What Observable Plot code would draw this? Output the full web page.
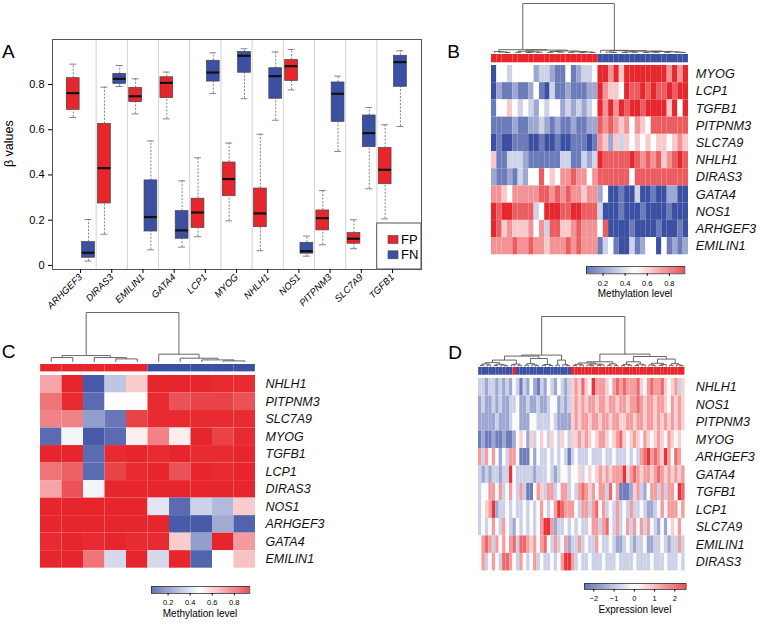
<!DOCTYPE html>
<html><head><meta charset="utf-8">
<script src="https://cdn.jsdelivr.net/npm/d3@7"></script>
<script src="https://cdn.jsdelivr.net/npm/@observablehq/plot@0.6"></script>
<style>
html,body{margin:0;padding:0;background:#fff;}
#fig{position:relative;width:760px;height:624px;background:#fff;overflow:hidden;}
#fig svg{position:absolute;}
</style></head>
<body><div id="fig"></div>
<script>
// ---------------- DATA ----------------
// Panel A: box-plot statistics of beta values per gene
const genes = ["ARHGEF3","DIRAS3","EMILIN1","GATA4","LCP1","MYOG","NHLH1","NOS1","PITPNM3","SLC7A9","TGFB1"];
const fpMin = [0.654,0.138,0.670,0.648,0.127,0.197,0.065,0.776,0.091,0.074,0.206];
const fpQ1  = [0.688,0.274,0.722,0.740,0.166,0.306,0.169,0.816,0.155,0.096,0.359];
const fpMed = [0.762,0.430,0.748,0.807,0.234,0.382,0.230,0.881,0.209,0.118,0.423];
const fpQ3  = [0.828,0.626,0.785,0.832,0.295,0.455,0.340,0.908,0.243,0.143,0.519];
const fpMax = [0.890,0.788,0.825,0.855,0.476,0.541,0.580,0.955,0.331,0.202,0.622];
const fnMin = [0.019,0.791,0.069,0.081,0.760,0.737,0.642,0.041,0.504,0.339,0.614];
const fnQ1  = [0.034,0.803,0.150,0.118,0.813,0.852,0.737,0.052,0.635,0.523,0.790];
const fnMed = [0.056,0.825,0.214,0.155,0.853,0.927,0.837,0.063,0.759,0.585,0.899];
const fnQ3  = [0.103,0.847,0.376,0.240,0.905,0.944,0.872,0.100,0.809,0.663,0.927];
const fnMax = [0.203,0.884,0.550,0.374,0.940,0.958,0.944,0.130,0.837,0.698,0.949];
const groupNames = ["FP","FN"];

// Panel B: methylation level codes (1 = darkest blue ≈0.05, 5 = white ≈0.5, 9 = deepest red ≈0.94), 20 FP + 17 FN samples
const bRows = ["MYOG","LCP1","TGFB1","PITPNM3","SLC7A9","NHLH1","DIRAS3","GATA4","NOS1","ARHGEF3","EMILIN1"];
const bGroups = ["FP","FP","FP","FP","FP","FP","FP","FP","FP","FP","FP","FP","FP","FP","FP","FP","FP","FP","FP","FP",
                 "FN","FN","FN","FN","FN","FN","FN","FN","FN","FN","FN","FN","FN","FN","FN","FN","FN"];
const bLevels = [
 [1,5,5,4,5,5,5,5,3,4,4,3,2,2,5,2,3,4,4,5, 9,9,7,9,6,9,9,9,9,9,9,9,9,7,9,7,9],
 [1,3,2,2,3,2,2,3,5,2,1,4,2,2,3,2,2,2,3,3, 9,7,6,6,5,9,8,8,9,8,9,8,8,9,8,9,9],
 [2,5,5,6,5,4,5,4,3,5,4,5,5,3,4,3,4,3,4,5, 9,7,9,7,9,8,9,9,8,9,9,9,9,6,9,5,9],
 [2,2,2,2,3,2,2,3,3,4,3,2,3,2,2,3,2,2,3,3, 8,7,8,7,6,7,5,7,6,5,8,8,8,8,8,8,8],
 [1,2,1,1,2,2,2,1,1,2,1,1,2,1,1,2,2,2,1,2, 7,6,3,6,4,6,5,6,5,6,5,6,6,5,6,7,6],
 [6,2,2,4,4,4,3,2,2,2,2,2,2,4,4,2,2,4,3,4, 9,8,8,8,8,8,9,8,7,8,7,8,6,7,8,9,8],
 [3,2,2,3,2,4,3,5,5,8,5,6,5,7,7,8,7,7,5,7, 8,8,8,8,8,8,5,8,8,8,8,8,8,8,8,8,8],
 [7,7,6,5,7,7,7,7,7,8,8,7,8,7,8,7,7,6,7,7, 3,5,1,1,2,1,1,4,1,1,2,1,1,3,3,1,1],
 [9,8,9,9,8,8,8,8,4,5,9,9,9,8,8,9,9,8,8,8, 4,1,1,1,2,1,1,1,2,1,1,1,1,2,1,1,1],
 [9,8,6,7,6,6,6,7,5,7,4,8,8,6,6,7,8,7,7,7, 5,8,1,1,1,1,2,1,1,1,1,2,1,1,1,2,1],
 [7,7,7,7,8,7,7,8,7,7,6,7,7,7,8,7,8,7,7,7, 2,4,5,2,1,1,4,2,3,5,5,1,5,2,3,2,3]
];
// column dendrogram: [left, right, height]
const bTree = [
 [[0,[1,[2,3,0.5],0.9],1.3],
  [[[4,5,0.6],[[6,7,0.4],[8,9,0.7],1.0],1.6],
   [[[10,11,0.5],[12,13,0.8],1.4],[[14,15,0.6],[[16,17,0.3],[18,19,0.5],0.9],1.2],1.9],2.8],3.2],
 [20,
  [[21,[22,23,0.4],0.8],
   [[[24,25,0.5],[26,27,0.6],1.0],[[[28,29,0.4],[30,31,0.6],0.9],[[32,33,0.5],[34,[35,36,0.3],0.7],1.1],1.5],1.8],2.2],2.6],
 49.4];

// Panel C: methylation level, 5 FP + 5 FN samples
const cRows = ["NHLH1","PITPNM3","SLC7A9","MYOG","TGFB1","LCP1","DIRAS3","NOS1","ARHGEF3","GATA4","EMILIN1"];
const cGroups = ["FP","FP","FP","FP","FP","FN","FN","FN","FN","FN"];
const cValues = [
 [0.68,0.95,0.08,0.35,0.60,0.95,0.95,0.95,0.93,0.93],
 [0.78,0.93,0.12,0.50,0.50,0.93,0.85,0.88,0.88,0.85],
 [0.75,0.75,0.25,0.15,0.88,0.93,0.93,0.93,0.93,0.93],
 [0.12,0.47,0.08,0.12,0.53,0.75,0.53,0.95,0.88,0.93],
 [0.95,0.95,0.12,0.93,0.95,0.93,0.95,0.93,0.93,0.95],
 [0.78,0.82,0.12,0.88,0.93,0.95,0.85,0.95,0.93,0.95],
 [0.68,0.85,0.47,0.95,0.95,0.95,0.95,0.95,0.95,0.95],
 [0.95,0.95,0.95,0.95,0.95,0.43,0.12,0.38,0.32,0.60],
 [0.95,0.95,0.95,0.95,0.95,0.95,0.08,0.08,0.28,0.10],
 [0.93,0.95,0.93,0.95,0.93,0.93,0.60,0.25,0.95,0.70],
 [0.95,0.95,0.78,0.40,0.95,0.40,0.95,0.10,0.50,0.62]
];
const cTree = [[[0,1,4.3],[2,[3,4,3],4.3],6.3],[5,[6,[7,[8,9,1],2],3.7],7.7],49.4];

// Panel D: expression level codes (4 = 0, each step = 0.6), 27 mostly FN + 33 FP samples
const dRows = ["NHLH1","NOS1","PITPNM3","MYOG","ARHGEF3","GATA4","TGFB1","LCP1","SLC7A9","EMILIN1","DIRAS3"];
const dGroups = ["FN","FN","FN","FN","FN","FN","FN","FN","FN","FN","FP","FN","FN","FN","FN","FN","FN","FN","FN","FN","FN","FN","FN","FN","FN","FN","FN",
 "FP","FP","FP","FP","FP","FP","FP","FP","FP","FP","FP","FP","FP","FP","FP","FP","FP","FP","FP","FP","FP","FP","FP","FP","FP","FP","FP","FP","FP","FP","FP","FP","FP"];
const dLevels = [
 [3,3,2,3,3,2,3,2,3,2,4,3,1,3,2,4,2,1,3,2,4,3,2,4,3,2,3, 5,6,5,7,5,4,8,6,6,6,5,4,6,7,6,7,6,6,6,7,5,4,6,7,6,6,7,5,4,5,6,3,5],
 [2,3,2,2,3,2,3,2,2,3,3,4,2,2,3,2,2,3,2,2,3,4,4,2,3,2,3, 5,6,5,6,5,6,6,5,6,6,5,6,6,5,6,6,5,6,6,7,6,5,6,6,5,6,6,5,4,6,5,6,5],
 [2,2,2,2,2,3,2,2,2,3,4,4,2,2,2,4,4,3,3,3,3,4,3,2,2,2,2, 5,6,5,6,6,5,6,6,5,6,6,5,6,6,5,5,6,6,5,6,6,5,6,6,5,6,5,6,5,6,5,6,5],
 [1,2,1,1,2,1,1,2,1,1,2,4,5,4,2,5,3,4,5,4,3,5,4,3,5,4,3, 5,5,6,5,6,5,4,5,6,6,5,4,5,6,7,5,4,5,6,5,4,6,5,4,5,6,5,4,6,5,4,5,4],
 [6,3,6,4,6,4,2,4,3,6,6,4,1,1,1,4,2,4,3,3,4,3,4,3,4,3,1, 3,4,3,3,3,4,3,3,3,4,3,3,4,3,3,3,4,3,4,3,6,7,8,6,7,6,5,8,6,4,7,6,4],
 [3,2,3,2,3,3,2,3,3,8,4,3,3,3,3,3,2,3,3,3,4,3,2,3,4,4,3, 4,4,5,3,4,5,4,5,6,5,6,5,6,6,6,8,5,6,7,6,5,6,6,5,6,7,6,5,6,5,6,5,6],
 [3,4,4,6,6,4,6,3,4,6,4,3,6,3,1,1,4,6,5,3,6,6,3,4,6,6,3, 4,3,6,7,6,5,6,4,6,6,3,7,4,6,1,1,1,2,5,6,3,2,4,6,6,3,6,3,6,6,4,8,7],
 [3,4,5,6,8,2,3,3,4,3,4,3,3,4,3,4,3,4,6,4,3,4,6,8,7,6,6, 6,4,3,6,6,3,6,7,4,6,3,4,3,6,3,4,3,6,3,3,4,3,2,2,3,4,6,4,6,6,6,4,6],
 [3,4,3,4,6,4,3,6,4,3,2,4,3,4,3,4,3,4,6,8,8,6,2,3,3,4,3, 4,3,4,3,3,4,6,6,3,6,7,4,3,6,3,4,6,3,6,4,6,3,6,4,3,2,4,2,4,5,4,6,4],
 [4,6,7,6,3,6,4,6,4,6,7,3,7,7,6,5,6,4,6,7,4,3,6,3,4,6,2, 3,3,6,3,4,3,3,6,4,3,3,4,3,2,2,3,4,3,2,3,3,4,2,2,3,3,4,3,2,3,3,6,3],
 [4,6,3,4,6,4,3,7,7,6,4,3,6,4,3,4,6,3,4,3,3,4,3,4,6,8,8, 6,3,4,3,3,4,3,3,3,4,3,3,3,4,3,3,3,3,4,3,3,3,3,4,3,3,3,4,3,3,3,4,3]
];
const dTree = [
 [[[[[[0,1,1.2],[2,3,1.5],2.5],[[4,5,1.0],[6,[7,8,0.8],1.4],2.2],3.8],[[9,10,1.6],[11,12,1.1],2.4],6.4],
   [[[13,14,1.3],[15,[16,17,0.9],1.6],2.8],[[18,19,1.2],[20,21,1.0],2.0],8.0],10.4],
  [[22,23,1.5],[24,[25,26,0.9],1.8],6.4],11.4],
 [[[[[27,28,1.0],[29,30,1.4],2.2],[[31,[32,33,0.8],1.5],[[34,35,1.1],36,1.7],2.4],3.5],[[37,38,1.2],[39,40,0.9],2.6],4.7],
  [[[[41,42,0.9],[43,44,1.3],2.1],[[45,46,1.0],[47,48,1.4],2.3],4.7],
   [[[49,[50,51,0.8],1.6],[[52,53,1.1],54,1.9],3.2],[[55,56,1.2],[57,[58,59,0.7],1.5],2.8],7.4],10],12.4],
 50];

const methTicks = [0.2,0.4,0.6,0.8];
const exprTicks = [-2,-1,0,1,2];
const yTicksA = [0,0.2,0.4,0.6,0.8];

// ---------------- STYLE ----------------
const FONT = "'Liberation Sans', Arial, Helvetica, sans-serif";
const RED = "#e6262c", BLUE = "#3b4fa3";
const methColor = {type:"linear", domain:[0.05,0.495,0.94], range:[BLUE,"#ffffff",RED], interpolate:"rgb", clamp:true};
const exprColor = {type:"linear", domain:[-2.46,0.05,2.56], range:[BLUE,"#ffffff",RED], interpolate:"rgb", clamp:true};
const groupColor = {domain: groupNames, range:[RED, BLUE]};
const baseStyle = {fontFamily: FONT, background:"transparent", overflow:"visible"};

const fig = document.getElementById("fig");
function place(node, left, top) {
  node.style.position = "absolute";
  node.style.left = left + "px";
  node.style.top = top + "px";
  node.style.maxWidth = "none";
  fig.appendChild(node);
}

// ---------------- PANEL A ----------------
const boxes = genes.flatMap((g, i) => [
  {g, i, grp:"FP", min:fpMin[i], q1:fpQ1[i], med:fpMed[i], q3:fpQ3[i], max:fpMax[i]},
  {g, i, grp:"FN", min:fnMin[i], q1:fnQ1[i], med:fnMed[i], q3:fnQ3[i], max:fnMax[i]}
]);
const bx = d => d.i + (d.grp === "FP" ? -0.235 : 0.255);
const HW = 0.205, CAP = 0.11;
const plotA = Plot.plot({
  width: 430, height: 320, marginLeft: 52, marginRight: 9, marginTop: 39, marginBottom: 51,
  style: {...baseStyle, fontSize:"11px"},
  x: {domain:[-0.9, 10.93]},
  y: {domain:[-0.018, 0.999]},
  color: groupColor,
  marks: [
    Plot.ruleX(genes.slice(1).map((g, i) => i + 0.5), {stroke:"#d2d2d2", strokeWidth:1}),
    Plot.ruleX(boxes, {x: bx, y1:"q3", y2:"max", stroke:"#666", strokeWidth:0.8, strokeDasharray:"2,1.5"}),
    Plot.ruleX(boxes, {x: bx, y1:"min", y2:"q1", stroke:"#666", strokeWidth:0.8, strokeDasharray:"2,1.5"}),
    Plot.ruleY(boxes, {y:"max", x1: d => bx(d) - CAP, x2: d => bx(d) + CAP, stroke:"#666", strokeWidth:0.8}),
    Plot.ruleY(boxes, {y:"min", x1: d => bx(d) - CAP, x2: d => bx(d) + CAP, stroke:"#666", strokeWidth:0.8}),
    Plot.rect(boxes, {x1: d => bx(d) - HW, x2: d => bx(d) + HW, y1:"q1", y2:"q3", fill:"grp", stroke:"#444", strokeWidth:0.7}),
    Plot.ruleY(boxes, {y:"med", x1: d => bx(d) - HW, x2: d => bx(d) + HW, stroke:"#111", strokeWidth:2.2}),
    Plot.frame({stroke:"#555"}),
    Plot.axisY({ticks: yTicksA, tickFormat: d => d === 0 ? "0" : d.toFixed(1), tickSize:4, tickPadding:4, fontSize:11, label:null}),
    Plot.axisX({ticks: genes.map((g, i) => i), tickFormat: i => genes[i], tickRotate:-45, tickSize:4, tickPadding:2, fontSize:9.5, fontStyle:"italic", label:null})
  ]
});
d3.select(plotA).selectAll('g[aria-label="x-axis tick label"]').style("font-style","italic");
place(plotA, 0, 0);

// ---------------- HEATMAP HELPERS ----------------
function dendroSegs(tree) {
  const segs = [];
  (function walk(t) {
    if (typeof t === "number") return {x: t + 0.5, h: 0};
    const [l, r, h] = t;
    const a = walk(l), b = walk(r);
    segs.push({x1:a.x, y1:a.h, x2:a.x, y2:h}, {x1:b.x, y1:b.h, x2:b.x, y2:h}, {x1:a.x, y1:h, x2:b.x, y2:h});
    return {x:(a.x + b.x) / 2, h};
  })(tree);
  return segs;
}

function panel({rows, values, groups, tree, color, left, cellW, dTop, dBase, barTop, barH, hmTop, hmH, labelX, fontSize}) {
  const n = groups.length;
  const W = n * cellW;
  const idx = groups.map((g, i) => i);
  const topH = tree[2];
  // dendrogram
  const dend = Plot.plot({
    width: W, height: dBase - dTop + 1, margin: 0, marginTop: 1,
    style: baseStyle,
    x: {domain:[0, n], axis:null},
    y: {domain:[0, topH], axis:null},
    marks: [Plot.link(dendroSegs(tree), {x1:"x1", y1:"y1", x2:"x2", y2:"y2", stroke:"#555", strokeWidth:0.9})]
  });
  place(dend, left, dTop - 1);
  // group colour bar
  const bar = Plot.plot({
    width: W, height: barH, margin: 0,
    style: baseStyle,
    x: {type:"band", domain: idx, padding:0, round:false, axis:null},
    color: groupColor,
    marks: [Plot.cell(groups.map((g, i) => ({i, g})), {x:"i", fill:"g"})]
  });
  place(bar, left, barTop);
  // heat map
  const tidy = rows.flatMap((r, ri) => values[ri].map((v, c) => ({r, c, v})));
  const mR = 760 - (left + W);
  const hm = Plot.plot({
    width: W + mR, height: hmH, margin: 0, marginRight: mR,
    style: baseStyle,
    x: {type:"band", domain: idx, padding:0, round:false, axis:null},
    y: {type:"band", domain: rows, padding:0, round:false},
    color,
    marks: [
      Plot.cell(tidy, {x:"c", y:"r", fill:"v"}),
      Plot.axisY({anchor:"right", tickSize:0, tickPadding: labelX - (left + W), fontSize, fontStyle:"italic", label:null})
    ]
  });
  d3.select(hm).selectAll('g[aria-label="y-axis tick label"]').style("font-style","italic").attr("fill","#111");
  place(hm, left, hmTop);
}

function colorLegend({left, top, barW, barH, color, lo, hi, ticks, tickFormat}) {
  const step = (hi - lo) / 150;
  const stops = d3.range(lo, hi - step / 2, step);
  const svg = Plot.plot({
    width: barW + 20, height: barH + 16, marginLeft: 10, marginRight: 10, marginTop: 0, marginBottom: 16,
    style: {...baseStyle, fontSize:"7.5px"},
    x: {domain:[lo, hi]},
    y: {domain:[0, 1], axis:null},
    color,
    marks: [
      Plot.rect(stops, {x1: d => d, x2: d => d + step * 1.05, y1: 0, y2: 1, fill: d => d + step / 2}),
      Plot.frame({stroke:"#333", strokeWidth:0.8}),
      Plot.axisX({ticks, tickFormat, tickSize:2.5, tickPadding:4, fontSize:7.5, label:null})
    ]
  });
  place(svg, left - 10, top);
}

// ---------------- PANEL B ----------------
const bValue = d => 0.05 + (d - 1) * 0.111;
panel({rows:bRows, values:bLevels.map(r => r.map(bValue)), groups:bGroups, tree:bTree, color:methColor,
  left:490.7, cellW:197/37, dTop:3.3, dBase:52.7, barTop:54, barH:8.3, hmTop:65, hmH:189.3, labelX:695, fontSize:12.8});
colorLegend({left:585.7, top:266, barW:98.3, barH:7.3, color:methColor, lo:0.05, hi:0.94, ticks:methTicks, tickFormat:d3.format(".1f")});

// ---------------- PANEL C ----------------
panel({rows:cRows, values:cValues, groups:cGroups, tree:cTree, color:methColor,
  left:40, cellW:21.5, dTop:312.3, dBase:361.7, barTop:364.3, barH:7.4, hmTop:375, hmH:192.7, labelX:265, fontSize:12.5});
colorLegend({left:150.7, top:585.7, barW:98.3, barH:7, color:methColor, lo:0.05, hi:0.94, ticks:methTicks, tickFormat:d3.format(".1f")});

// ---------------- PANEL D ----------------
panel({rows:dRows, values:dLevels.map(r => r.map(d => (d - 4) * 0.6)), groups:dGroups, tree:dTree, color:exprColor,
  left:477.7, cellW:206.6/60, dTop:315.7, dBase:365.7, barTop:367.3, barH:7.7, hmTop:378.3, hmH:192.4, labelX:695, fontSize:12.5});
colorLegend({left:584, top:583, barW:101.7, barH:6, color:exprColor, lo:-2.46, hi:2.56, ticks:exprTicks, tickFormat:d3.format("d")});

// ---------------- TEXT OVERLAY ----------------
const ov = d3.select(fig).append("svg").attr("width",760).attr("height",624)
  .style("left","0px").style("top","0px").style("pointer-events","none")
  .attr("font-family", FONT);
// legend of panel A
const lg = ov.append("g");
lg.append("rect").attr("x",376.7).attr("y",223).attr("width",44.3).attr("height",46).attr("fill","#fff").attr("stroke","#555");
groupNames.forEach((g, k) => {
  lg.append("rect").attr("x",388).attr("y",235.5 + k*15.3).attr("width",10).attr("height",8)
    .attr("fill", k === 0 ? RED : BLUE).attr("stroke","#444").attr("stroke-width",0.6);
  lg.append("text").attr("x",401).attr("y",244 + k*15.3).attr("font-size",13).text(g);
});
ov.append("text").attr("transform","translate(13,143.7) rotate(-90)").attr("text-anchor","middle")
  .attr("font-size",12.5).text("β values");
[["A",2,58.3],["B",447.3,58.3],["C",1.7,358.3],["D",448.3,359.3]].forEach(([t,x,y]) =>
  ov.append("text").attr("x",x).attr("y",y).attr("font-size",19).text(t));
[["Methylation level",635,297],["Methylation level",200,616.5],["Expression level",635,613]].forEach(([t,x,y]) =>
  ov.append("text").attr("x",x).attr("y",y).attr("font-size",10).attr("text-anchor","middle").text(t));
</script>
</body></html>
